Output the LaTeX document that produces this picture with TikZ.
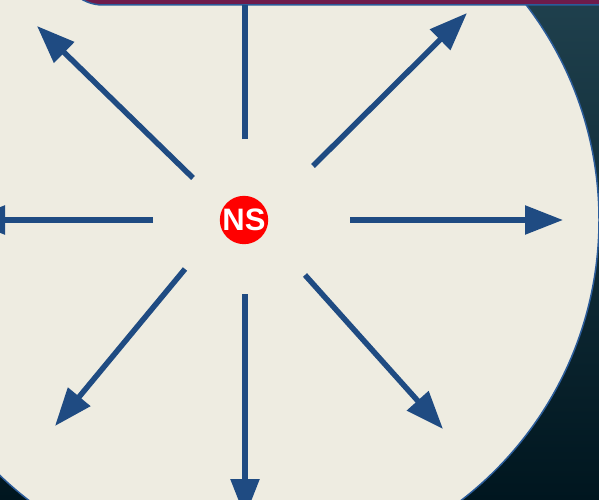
\documentclass[tikz,border=0pt]{standalone}
\usepackage{fontspec}
\setmainfont{Liberation Sans}
\usetikzlibrary{arrows.meta}
\definecolor{arrowblue}{HTML}{1F4B82}
\definecolor{beige}{HTML}{EEECE1}
\definecolor{rimblue}{HTML}{2B5C9A}
\definecolor{bgtop}{HTML}{1F404D}
\definecolor{bgbot}{HTML}{00161F}
\definecolor{barpurple}{HTML}{6E1B4B}
\definecolor{nsred}{HTML}{FF0000}
\tikzset{
  ray/.style={draw=arrowblue, line width=5.5pt, -{Triangle[length=38pt,width=28pt]}},
  nsnode/.style={circle, fill=nsred, minimum size=48pt, inner sep=0pt,
    text=white, font=\fontsize{31}{31}\selectfont\bfseries}
}
\begin{document}
\begin{tikzpicture}[x=1pt,y=-1pt]
\useasboundingbox (0,0) rectangle (599,500);
\clip (0,0) rectangle (599,500);
\shade[top color=bgtop, bottom color=bgbot] (0,0) rectangle (599,500);
\fill[beige] (245,220) circle[radius=354];
\draw[rimblue, line width=1.5pt] (245,220) circle[radius=354];
\filldraw[fill=barpurple, draw=rimblue, line width=1.5pt, rounded corners=42pt]
  (61,-100) rectangle (700,5);
\node[nsnode] (ns) at (244,220) {NS};
% ray start points
\coordinate (sN) at (245,139);
\coordinate (sNE) at (313,166);
\coordinate (sE) at (350,220);
\coordinate (sSE) at (305,275);
\coordinate (sS) at (245,294);
\coordinate (sSW) at (185,269);
\coordinate (sW) at (153,220);
\coordinate (sNW) at (193,178);
% ray tips
\coordinate (tN) at (245,-84);
\coordinate (tNE) at (467,13);
\coordinate (tE) at (563,220);
\coordinate (tSE) at (443,429);
\coordinate (tS) at (245,517);
\coordinate (tSW) at (55,426);
\coordinate (tW) at (-33,220);
\coordinate (tNW) at (37,26);
\begin{scope}
\clip (-200,5.8) rectangle (800,700);
\draw[ray] (sN) -- (tN);
\end{scope}
\draw[ray] (sNE) -- (tNE);
\draw[ray] (sE) -- (tE);
\draw[ray] (sSE) -- (tSE);
\draw[ray] (sS) -- (tS);
\draw[ray] (sSW) -- (tSW);
\draw[ray] (sW) -- (tW);
\draw[ray] (sNW) -- (tNW);
\end{tikzpicture}
\end{document}
